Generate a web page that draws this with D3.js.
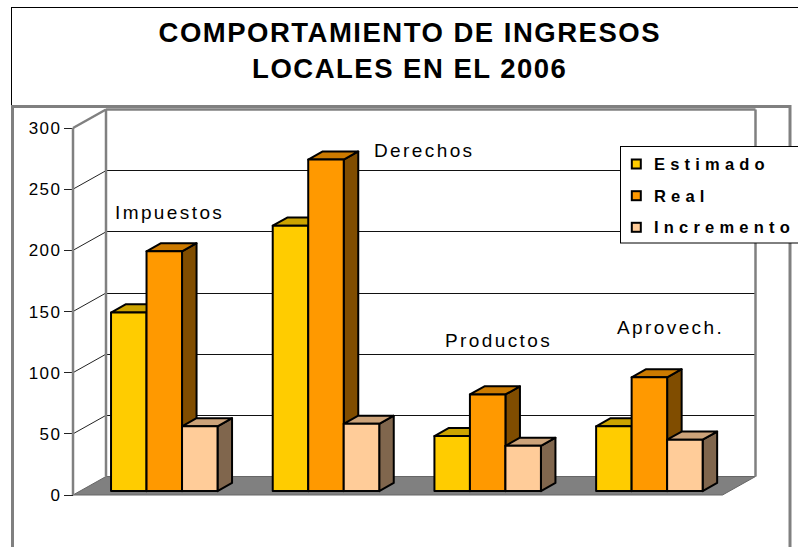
<!DOCTYPE html>
<html>
<head>
<meta charset="utf-8">
<script src="https://cdn.jsdelivr.net/npm/d3@7"></script>
<style>
  html, body { margin: 0; padding: 0; background: #fff; }
  svg { display: block; font-family: "Liberation Sans", Arial, sans-serif; }
</style>
</head>
<body>
<svg id="chart" width="798" height="547"></svg>
<script>
// ---- data ----
const categories = ["Impuestos", "Derechos", "Productos", "Aprovech."];
const seriesNames = ["Estimado", "Real", "Incremento"];
const estimado = [146, 217, 45, 53];
const real = [196, 271, 79, 93];
const incremento = [53, 55, 37, 42];
const yTicks = [0, 50, 100, 150, 200, 250, 300];
const titleLines = ["COMPORTAMIENTO DE INGRESOS", "LOCALES EN EL 2006"];

// ---- styling / layout ----
const seriesValues = [estimado, real, incremento];
const frontColors = ["#FFCC00", "#FF9900", "#FFCC99"];
const topColors = ["#CCA300", "#CC7A00", "#CCA37A"];
const sideColors = ["#806600", "#804D00", "#80664D"];
const labelLayout = [ // offset from band start (px), baseline level (value units)
  { dx: 42, v: 225.6 },
  { dx: 139.3, v: 276.3 },
  { dx: 48.6, v: 121 },
  { dx: 58.9, v: 131.4 }
];

const svg = d3.select("#chart");
const DX = 33, DY = 18.5;
const P = (x, y, z) => [x + z * DX, y - z * DY];
const crisp = v => Math.round(v - 0.5) + 0.5;

const y = d3.scaleLinear().domain([0, 300]).range([495, 128]);
const x0 = d3.scaleBand().domain(categories).range([73, 73 + 4 * 161.7]).padding(0);
const x1 = d3.scaleBand().domain(seriesNames).range([31.1, 31.1 + 3 * 35.5]).padding(0);
const floorLeft = 73, floorRight = 722.5;

// chart area border
svg.append("rect").attr("x", 11.5).attr("y", 7.5).attr("width", 820).attr("height", 600)
  .attr("fill", "#fff").attr("stroke", "#000").attr("stroke-width", 1);

// plot area border
svg.append("rect").attr("x", 12.5).attr("y", 106.5).attr("width", 777.5).attr("height", 500)
  .attr("fill", "none").attr("stroke", "#808080").attr("stroke-width", 3);

// title
const title = svg.append("g");
titleLines.forEach((t, i) => {
  title.append("text").attr("x", 409 + 0.75).attr("y", i === 0 ? 41.7 : 78.3)
    .attr("text-anchor", "middle").attr("font-size", "27.5px").attr("font-weight", "bold")
    .attr("letter-spacing", "1.5px").attr("fill", "#000").text(t);
});

const line = d3.line();

// floor
svg.append("path")
  .attr("d", line([P(floorLeft, y(0), 0), P(floorRight, y(0), 0), P(floorRight, y(0), 1), P(floorLeft, y(0), 1)]) + "Z")
  .attr("fill", "#808080").attr("stroke", "#666").attr("stroke-width", 1);

// back wall gridlines and side wall lines
yTicks.filter(v => v > 0 && v < 300).forEach(v => {
  const yb = crisp(y(v) - DY);
  svg.append("path").attr("d", line([[floorLeft + DX, yb], [floorRight + DX, yb]]))
    .attr("stroke", "#111").attr("stroke-width", 1).attr("fill", "none");
  svg.append("path").attr("d", line([P(floorLeft, y(v), 0), P(floorLeft, y(v), 1)]))
    .attr("stroke", "#222").attr("stroke-width", 1).attr("fill", "none");
});
// wall edges
const grayEdge = (pts, w) => svg.append("path").attr("d", line(pts)).attr("fill", "none")
  .attr("stroke", "#808080").attr("stroke-width", w);
grayEdge([P(floorLeft, y(0), 1), P(floorLeft, y(300), 1)], 2.5);
grayEdge([P(floorRight, y(0), 1), P(floorRight, y(300), 1)], 2.5);
grayEdge([P(floorLeft, y(300), 1), P(floorRight, y(300), 1)], 2.5);
grayEdge([P(floorLeft, y(300), 0), P(floorLeft, y(300), 1)], 2.5);

// y axis
const yAxis = svg.append("g");
grayEdge([[floorLeft, y(0)], [floorLeft, y(300)]], 2.5);
yTicks.forEach(v => {
  yAxis.append("line").attr("x1", 64).attr("x2", floorLeft).attr("y1", crisp(y(v))).attr("y2", crisp(y(v)))
    .attr("stroke", "#222").attr("stroke-width", 1);
  yAxis.append("text").attr("x", 60 + 1.5).attr("y", y(v) + 6).attr("text-anchor", "end")
    .attr("font-size", "17px").attr("letter-spacing", "1.5px").attr("fill", "#000").text(v);
});

// bars
const z0 = 0.21, z1 = 0.65;
categories.forEach((c, i) => {
  seriesNames.forEach((s, j) => {
    const v = seriesValues[j][i];
    const xa = x0(c) + x1(s), xb = xa + x1.bandwidth();
    const yt = y(v), yb = y(0);
    const g = svg.append("g").attr("stroke", "#000").attr("stroke-width", 2).attr("stroke-linejoin", "round");
    g.append("path").attr("d", line([P(xb, yt, z0), P(xb, yt, z1), P(xb, yb, z1), P(xb, yb, z0)]) + "Z")
      .attr("fill", sideColors[j]);
    g.append("path").attr("d", line([P(xa, yt, z0), P(xb, yt, z0), P(xb, yt, z1), P(xa, yt, z1)]) + "Z")
      .attr("fill", topColors[j]);
    g.append("path").attr("d", line([P(xa, yt, z0), P(xb, yt, z0), P(xb, yb, z0), P(xa, yb, z0)]) + "Z")
      .attr("fill", frontColors[j]);
  });
});

// category labels
categories.forEach((c, i) => {
  svg.append("text").attr("x", x0(c) + labelLayout[i].dx).attr("y", y(labelLayout[i].v))
    .attr("font-size", "19px").attr("letter-spacing", "2.4px").attr("fill", "#000").text(c);
});

// legend
const legend = svg.append("g");
legend.append("rect").attr("x", 620.5).attr("y", 146.5).attr("width", 200).attr("height", 96.5)
  .attr("fill", "#fff").attr("stroke", "#000").attr("stroke-width", 1);
const legendBase = [170, 201.7, 233.3];
seriesNames.forEach((s, j) => {
  legend.append("rect").attr("x", 631.8).attr("y", legendBase[j] - 10.5).attr("width", 9).attr("height", 9)
    .attr("fill", frontColors[j]).attr("stroke", "#000").attr("stroke-width", 2);
  legend.append("text").attr("x", 654).attr("y", legendBase[j]).attr("font-size", "16.5px")
    .attr("font-weight", "bold").attr("letter-spacing", "5.2px").attr("fill", "#000").text(s);
});
</script>
</body>
</html>
